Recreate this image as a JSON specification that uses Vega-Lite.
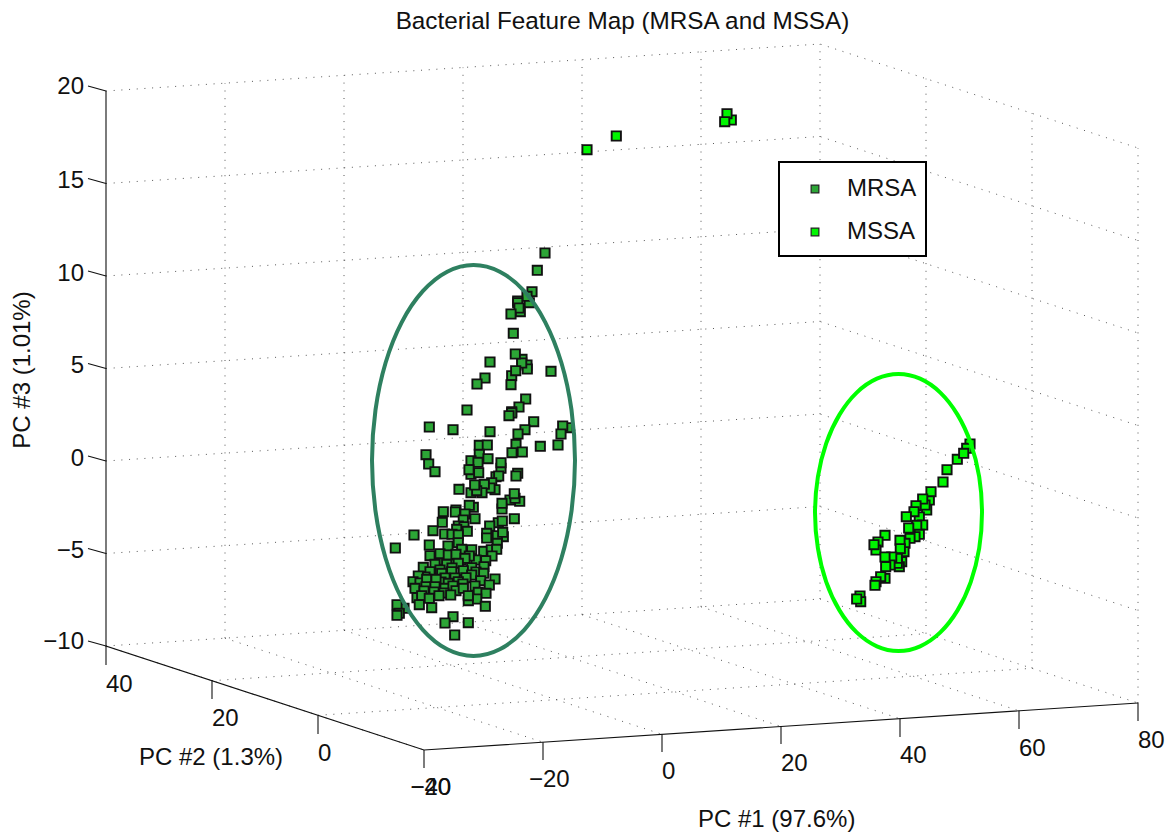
{"$schema":"https://vega.github.io/schema/vega-lite/v6.json","width":1169,"height":834,"padding":0,"autosize":"none","background":"white","view":{"stroke":null},
"title":{"text":"Bacterial Feature Map (MRSA and MSSA)","anchor":"middle","dx":38,"offset":-34,"fontSize":24.3,"font":"Liberation Sans","fontWeight":"normal","color":"#111"},
"config":{"axis":{"domain":false}},
"datasets":{
"grid":[
{"g":"a0","x":424,"y":750},{"g":"a0","x":106,"y":646},{"g":"a1","x":543,"y":742.2},{"g":"a1","x":225,"y":638.2},{"g":"a2","x":662,"y":734.3},{"g":"a2","x":344,"y":630.3},{"g":"a3","x":781,"y":726.5},{"g":"a3","x":463,"y":622.5},{"g":"a4","x":900,"y":718.7},{"g":"a4","x":582,"y":614.7},{"g":"a5","x":1019,"y":710.8},{"g":"a5","x":701,"y":606.8},{"g":"a6","x":1138,"y":703},{"g":"a6","x":820,"y":599},
{"g":"b1","x":318,"y":715.3},{"g":"b1","x":1032,"y":668.3},{"g":"b2","x":212,"y":680.7},{"g":"b2","x":926,"y":633.7},{"g":"b3","x":106,"y":646},{"g":"b3","x":820,"y":599},
{"g":"v1","x":225,"y":638.2},{"g":"v1","x":225,"y":83.2},{"g":"v2","x":344,"y":630.3},{"g":"v2","x":344,"y":75.3},{"g":"v3","x":463,"y":622.5},{"g":"v3","x":463,"y":67.5},{"g":"v4","x":582,"y":614.7},{"g":"v4","x":582,"y":59.7},{"g":"v5","x":701,"y":606.8},{"g":"v5","x":701,"y":51.8},{"g":"v6","x":820,"y":599},{"g":"v6","x":820,"y":44},{"g":"v7","x":926,"y":633.7},{"g":"v7","x":926,"y":78.7},{"g":"v8","x":1032,"y":668.3},{"g":"v8","x":1032,"y":113.3},{"g":"v9","x":1138,"y":703},{"g":"v9","x":1138,"y":148},
{"g":"h1","x":106,"y":553.5},{"g":"h1","x":820,"y":506.5},{"g":"h1","x":1138,"y":610.5},
{"g":"h2","x":106,"y":461},{"g":"h2","x":820,"y":414},{"g":"h2","x":1138,"y":518},
{"g":"h3","x":106,"y":368.5},{"g":"h3","x":820,"y":321.5},{"g":"h3","x":1138,"y":425.5},
{"g":"h4","x":106,"y":276},{"g":"h4","x":820,"y":229},{"g":"h4","x":1138,"y":333},
{"g":"h5","x":106,"y":183.5},{"g":"h5","x":820,"y":136.5},{"g":"h5","x":1138,"y":240.5},
{"g":"h6","x":106,"y":91},{"g":"h6","x":820,"y":44},{"g":"h6","x":1138,"y":148}
],
"axes":[
{"g":"z","x":106,"y":91},{"g":"z","x":106,"y":646},{"g":"z","x":424,"y":750},{"g":"z","x":1138,"y":703},
{"g":"t1","x":88,"y":86},{"g":"t1","x":106,"y":91},{"g":"t2","x":88,"y":178.5},{"g":"t2","x":106,"y":183.5},{"g":"t3","x":88,"y":271},{"g":"t3","x":106,"y":276},{"g":"t4","x":88,"y":363.5},{"g":"t4","x":106,"y":368.5},{"g":"t5","x":88,"y":456},{"g":"t5","x":106,"y":461},{"g":"t6","x":88,"y":548.5},{"g":"t6","x":106,"y":553.5},{"g":"t7","x":88,"y":641},{"g":"t7","x":106,"y":646},
{"g":"p1","x":106,"y":646},{"g":"p1","x":106,"y":665},{"g":"p2","x":212,"y":680.7},{"g":"p2","x":212,"y":699},{"g":"p3","x":318,"y":715.3},{"g":"p3","x":318,"y":734},{"g":"p4","x":424,"y":750},{"g":"p4","x":424,"y":768},
{"g":"q1","x":543,"y":742.2},{"g":"q1","x":543,"y":760},{"g":"q2","x":662,"y":734.3},{"g":"q2","x":662,"y":752},{"g":"q3","x":781,"y":726.5},{"g":"q3","x":781,"y":744},{"g":"q4","x":900,"y":718.7},{"g":"q4","x":900,"y":737},{"g":"q5","x":1019,"y":710.8},{"g":"q5","x":1019,"y":729},{"g":"q6","x":1138,"y":703},{"g":"q6","x":1138,"y":721}
],
"box":[{"x":779,"x2":926,"y":162,"y2":256}],
"ellipses":[
{"s":"MRSA","o":0,"x":575,"y":460.5},{"s":"MRSA","o":1,"x":571.5,"y":409.9},{"s":"MRSA","o":2,"x":561.4,"y":362.75},{"s":"MRSA","o":3,"x":545.3,"y":322.3},{"s":"MRSA","o":4,"x":524.3,"y":291.2},{"s":"MRSA","o":5,"x":499.8,"y":271.7},{"s":"MRSA","o":6,"x":473.5,"y":265},{"s":"MRSA","o":7,"x":447.2,"y":271.7},{"s":"MRSA","o":8,"x":422.8,"y":291.2},{"s":"MRSA","o":9,"x":401.7,"y":322.3},{"s":"MRSA","o":10,"x":385.6,"y":362.75},{"s":"MRSA","o":11,"x":375.5,"y":409.9},{"s":"MRSA","o":12,"x":372,"y":460.5},{"s":"MRSA","o":13,"x":375.5,"y":511.1},{"s":"MRSA","o":14,"x":385.6,"y":558.25},{"s":"MRSA","o":15,"x":401.7,"y":598.7},{"s":"MRSA","o":16,"x":422.8,"y":629.8},{"s":"MRSA","o":17,"x":447.2,"y":649.3},{"s":"MRSA","o":18,"x":473.5,"y":656},{"s":"MRSA","o":19,"x":499.8,"y":649.3},{"s":"MRSA","o":20,"x":524.3,"y":629.8},{"s":"MRSA","o":21,"x":545.3,"y":598.7},{"s":"MRSA","o":22,"x":561.4,"y":558.25},{"s":"MRSA","o":23,"x":571.5,"y":511.1},
{"s":"MSSA","o":0,"x":982,"y":512.5},{"s":"MSSA","o":1,"x":979.2,"y":476.7},{"s":"MSSA","o":2,"x":970.8,"y":443.3},{"s":"MSSA","o":3,"x":957.5,"y":414.6},{"s":"MSSA","o":4,"x":940.3,"y":392.6},{"s":"MSSA","o":5,"x":920.1,"y":378.7},{"s":"MSSA","o":6,"x":898.5,"y":374},{"s":"MSSA","o":7,"x":876.9,"y":378.7},{"s":"MSSA","o":8,"x":856.7,"y":392.6},{"s":"MSSA","o":9,"x":839.5,"y":414.6},{"s":"MSSA","o":10,"x":826.2,"y":443.3},{"s":"MSSA","o":11,"x":817.9,"y":476.7},{"s":"MSSA","o":12,"x":815,"y":512.5},{"s":"MSSA","o":13,"x":817.9,"y":548.3},{"s":"MSSA","o":14,"x":826.2,"y":581.8},{"s":"MSSA","o":15,"x":839.5,"y":610.4},{"s":"MSSA","o":16,"x":856.7,"y":632.4},{"s":"MSSA","o":17,"x":876.9,"y":646.3},{"s":"MSSA","o":18,"x":898.5,"y":651},{"s":"MSSA","o":19,"x":920.1,"y":646.3},{"s":"MSSA","o":20,"x":940.3,"y":632.4},{"s":"MSSA","o":21,"x":957.5,"y":610.4},{"s":"MSSA","o":22,"x":970.8,"y":581.8},{"s":"MSSA","o":23,"x":979.2,"y":548.3}
],
"labelsRight":[
{"t":"20","x":84,"y":87},{"t":"15","x":84,"y":181},{"t":"10","x":84,"y":274},{"t":"5","x":84,"y":366},{"t":"0","x":84,"y":459},{"t":"−5","x":84,"y":551},{"t":"−10","x":84,"y":642}],
"labelsLeft":[
{"t":"40","x":106,"y":685},{"t":"20","x":212,"y":719},{"t":"0","x":318,"y":754},{"t":"−20","x":410.5,"y":788},
{"t":"−40","x":410.5,"y":788},{"t":"−20","x":529,"y":780},{"t":"0","x":662,"y":772},{"t":"20","x":781,"y":764},{"t":"40","x":900,"y":756},{"t":"60","x":1019,"y":749},{"t":"80","x":1138,"y":741},
{"t":"PC #2 (1.3%)","x":139,"y":758},{"t":"PC #1 (97.6%)","x":698,"y":820}
],
"ylabel":[{"t":"PC #3 (1.01%)","x":23,"y":370}],
"points":[
{"s":"MRSA","x":545,"y":253},{"s":"MRSA","x":537.3,"y":270.3},{"s":"MRSA","x":532,"y":291.7},{"s":"MRSA","x":529.3,"y":302.7},{"s":"MRSA","x":527,"y":296.3},{"s":"MRSA","x":517.7,"y":301},{"s":"MRSA","x":517.7,"y":302.7},{"s":"MRSA","x":520.3,"y":311.7},{"s":"MRSA","x":519,"y":308},{"s":"MRSA","x":511,"y":314},{"s":"MRSA","x":513.3,"y":333.3},{"s":"MRSA","x":522,"y":359.3},{"s":"MRSA","x":527,"y":365},{"s":"MRSA","x":527.3,"y":369},{"s":"MRSA","x":521.7,"y":363},{"s":"MRSA","x":515.3,"y":354},{"s":"MRSA","x":511.7,"y":375.7},{"s":"MRSA","x":515.7,"y":370.7},{"s":"MRSA","x":511,"y":384.7},{"s":"MRSA","x":490,"y":362},{"s":"MRSA","x":485,"y":378},{"s":"MRSA","x":477,"y":384},{"s":"MRSA","x":551,"y":371.3},{"s":"MRSA","x":525.7,"y":399},{"s":"MRSA","x":519,"y":407},{"s":"MRSA","x":511.7,"y":411.7},{"s":"MRSA","x":511.7,"y":413},{"s":"MRSA","x":509,"y":415.7},{"s":"MRSA","x":467,"y":410},{"s":"MRSA","x":533.7,"y":421.7},{"s":"MRSA","x":568,"y":427.7},{"s":"MRSA","x":562.7,"y":426},{"s":"MRSA","x":561,"y":434},{"s":"MRSA","x":429.3,"y":427},{"s":"MRSA","x":453,"y":429.7},{"s":"MRSA","x":490,"y":431.7},{"s":"MRSA","x":525,"y":429.7},{"s":"MRSA","x":518,"y":434},
{"s":"MRSA","x":516,"y":444.3},{"s":"MRSA","x":540.3,"y":446.3},{"s":"MRSA","x":558,"y":445},{"s":"MRSA","x":522.3,"y":452},{"s":"MRSA","x":512,"y":452.7},{"s":"MRSA","x":479.3,"y":445.3},{"s":"MRSA","x":487.3,"y":445},{"s":"MRSA","x":479.3,"y":454.3},{"s":"MRSA","x":488,"y":458.7},{"s":"MRSA","x":471,"y":460.7},{"s":"MRSA","x":478,"y":462.3},{"s":"MRSA","x":501,"y":468.3},{"s":"MRSA","x":501,"y":462.7},{"s":"MRSA","x":471,"y":474.3},{"s":"MRSA","x":478.7,"y":472.7},{"s":"MRSA","x":469,"y":469.7},{"s":"MRSA","x":426,"y":454.7},{"s":"MRSA","x":428.7,"y":464},{"s":"MRSA","x":435,"y":471.7},{"s":"MRSA","x":517.7,"y":473.3},{"s":"MRSA","x":516,"y":476},{"s":"MRSA","x":496,"y":476.7},{"s":"MRSA","x":498.7,"y":476},{"s":"MRSA","x":491.7,"y":482.7},{"s":"MRSA","x":495,"y":489.7},{"s":"MRSA","x":490,"y":488},{"s":"MRSA","x":484.3,"y":484.3},{"s":"MRSA","x":482,"y":492.7},{"s":"MRSA","x":471,"y":492.7},{"s":"MRSA","x":476.7,"y":490.7},{"s":"MRSA","x":474.7,"y":485},{"s":"MRSA","x":459,"y":489.3},{"s":"MRSA","x":519.7,"y":501.3},{"s":"MRSA","x":510,"y":500},{"s":"MRSA","x":515,"y":498.3},{"s":"MRSA","x":514.3,"y":493.7},{"s":"MRSA","x":502,"y":509},{"s":"MRSA","x":502,"y":503.3},{"s":"MRSA","x":473.3,"y":507.3},{"s":"MRSA","x":469.3,"y":505.3},{"s":"MRSA","x":456,"y":510},{"s":"MRSA","x":455.3,"y":512},{"s":"MRSA","x":443.3,"y":511.7},{"s":"MRSA","x":465,"y":514},{"s":"MRSA","x":475,"y":518.7},{"s":"MRSA","x":514.3,"y":518.7},{"s":"MRSA","x":498.3,"y":522.7},{"s":"MRSA","x":502.3,"y":521},{"s":"MRSA","x":463.3,"y":520},{"s":"MRSA","x":442.3,"y":522.3},{"s":"MRSA","x":458.3,"y":526},{"s":"MRSA","x":464,"y":526.7},{"s":"MRSA","x":489.7,"y":526},{"s":"MRSA","x":433,"y":530.7},{"s":"MRSA","x":414,"y":535},{"s":"MRSA","x":456.7,"y":529.3},{"s":"MRSA","x":467.3,"y":531.3},{"s":"MRSA","x":444.7,"y":534},{"s":"MRSA","x":452,"y":534.3},{"s":"MRSA","x":458.3,"y":535},{"s":"MRSA","x":486.7,"y":533.3},{"s":"MRSA","x":486.7,"y":538},{"s":"MRSA","x":503.3,"y":536.7},{"s":"MRSA","x":497.3,"y":535.7},{"s":"MRSA","x":502.7,"y":532.3},
{"s":"MRSA","x":395.3,"y":548},{"s":"MRSA","x":429.3,"y":545},{"s":"MRSA","x":448,"y":546},{"s":"MRSA","x":458.3,"y":542.7},{"s":"MRSA","x":461.7,"y":549.3},{"s":"MRSA","x":471.7,"y":549.7},{"s":"MRSA","x":483.7,"y":551.3},{"s":"MRSA","x":491.3,"y":549.7},{"s":"MRSA","x":497.3,"y":543.3},{"s":"MRSA","x":496.7,"y":549.3},{"s":"MRSA","x":440,"y":560},{"s":"MRSA","x":452,"y":559},{"s":"MRSA","x":461,"y":560},{"s":"MRSA","x":476,"y":560},{"s":"MRSA","x":492,"y":556},{"s":"MRSA","x":430,"y":555.7},{"s":"MRSA","x":440,"y":553.7},{"s":"MRSA","x":448.3,"y":555},{"s":"MRSA","x":456,"y":554.3},{"s":"MRSA","x":469.3,"y":556},{"s":"MRSA","x":465,"y":558.3},{"s":"MRSA","x":485.7,"y":560.7},{"s":"MRSA","x":423.3,"y":567.3},{"s":"MRSA","x":435,"y":564.3},{"s":"MRSA","x":446.7,"y":564.3},{"s":"MRSA","x":458.3,"y":563.3},{"s":"MRSA","x":452,"y":568},{"s":"MRSA","x":440,"y":570},{"s":"MRSA","x":471.7,"y":567.7},{"s":"MRSA","x":484,"y":566.7},{"s":"MRSA","x":430,"y":571.7},{"s":"MRSA","x":441.7,"y":573.3},{"s":"MRSA","x":451.7,"y":571.7},{"s":"MRSA","x":463.3,"y":570.7},{"s":"MRSA","x":476,"y":572},{"s":"MRSA","x":425,"y":577},{"s":"MRSA","x":418.3,"y":576},{"s":"MRSA","x":483.7,"y":573.3},{"s":"MRSA","x":471.7,"y":575},{"s":"MRSA","x":466,"y":577.7},{"s":"MRSA","x":455,"y":578},{"s":"MRSA","x":445,"y":578},{"s":"MRSA","x":495,"y":579},{"s":"MRSA","x":480.7,"y":580.7},{"s":"MRSA","x":413,"y":581.7},{"s":"MRSA","x":420,"y":583},{"s":"MRSA","x":431,"y":582},{"s":"MRSA","x":441,"y":582},{"s":"MRSA","x":426.7,"y":579.3},{"s":"MRSA","x":436,"y":579.3},{"s":"MRSA","x":448.3,"y":583.3},{"s":"MRSA","x":458.3,"y":581.7},{"s":"MRSA","x":463,"y":584},{"s":"MRSA","x":475,"y":586},{"s":"MRSA","x":415,"y":588.3},{"s":"MRSA","x":426,"y":586.7},{"s":"MRSA","x":435,"y":586.7},{"s":"MRSA","x":445,"y":588.3},{"s":"MRSA","x":453,"y":586},{"s":"MRSA","x":456,"y":590.7},{"s":"MRSA","x":463.3,"y":588.3},{"s":"MRSA","x":489.3,"y":585},{"s":"MRSA","x":424,"y":591},{"s":"MRSA","x":434,"y":592},{"s":"MRSA","x":444,"y":593},{"s":"MRSA","x":417,"y":597.7},{"s":"MRSA","x":421.7,"y":595.7},{"s":"MRSA","x":429.3,"y":598.3},{"s":"MRSA","x":439,"y":595.7},{"s":"MRSA","x":450.7,"y":595},{"s":"MRSA","x":478.3,"y":592.3},{"s":"MRSA","x":486,"y":593.3},{"s":"MRSA","x":476.7,"y":599},{"s":"MRSA","x":468.3,"y":600.7},{"s":"MRSA","x":468.3,"y":595.7},{"s":"MRSA","x":419.3,"y":604.7},{"s":"MRSA","x":431.7,"y":607.7},{"s":"MRSA","x":485.3,"y":606.3},{"s":"MRSA","x":404,"y":608.3},{"s":"MRSA","x":397,"y":604.7},{"s":"MRSA","x":399.3,"y":613.3},{"s":"MRSA","x":397,"y":615.3},{"s":"MRSA","x":453,"y":616.7},{"s":"MRSA","x":445,"y":623},{"s":"MRSA","x":468.3,"y":622.7},{"s":"MRSA","x":454.7,"y":635},
{"s":"MSSA","x":970,"y":444},{"s":"MSSA","x":966.7,"y":448.3},{"s":"MSSA","x":957.3,"y":459.3},{"s":"MSSA","x":963.7,"y":453.3},{"s":"MSSA","x":947,"y":469.7},{"s":"MSSA","x":943,"y":482},{"s":"MSSA","x":929.3,"y":500},{"s":"MSSA","x":931,"y":491.7},{"s":"MSSA","x":926.7,"y":510},{"s":"MSSA","x":925,"y":505},{"s":"MSSA","x":922.7,"y":499},{"s":"MSSA","x":916,"y":505.7},{"s":"MSSA","x":919.3,"y":517},{"s":"MSSA","x":914,"y":511.7},{"s":"MSSA","x":906.3,"y":516.7},{"s":"MSSA","x":922.7,"y":525},{"s":"MSSA","x":916.7,"y":525.3},{"s":"MSSA","x":919.3,"y":534.3},{"s":"MSSA","x":915,"y":536.7},{"s":"MSSA","x":910,"y":538.3},{"s":"MSSA","x":908.7,"y":528},{"s":"MSSA","x":905,"y":543.3},{"s":"MSSA","x":904,"y":551.7},{"s":"MSSA","x":900,"y":540.3},{"s":"MSSA","x":900.3,"y":548.7},{"s":"MSSA","x":885,"y":535.3},{"s":"MSSA","x":878,"y":542},{"s":"MSSA","x":876,"y":550},{"s":"MSSA","x":874,"y":544.7},{"s":"MSSA","x":901.7,"y":561.7},{"s":"MSSA","x":899.3,"y":566.7},{"s":"MSSA","x":897.3,"y":563.3},{"s":"MSSA","x":897.3,"y":558.3},{"s":"MSSA","x":891.7,"y":557},{"s":"MSSA","x":890,"y":565},{"s":"MSSA","x":885,"y":557},{"s":"MSSA","x":885.7,"y":566.7},{"s":"MSSA","x":885,"y":578.3},{"s":"MSSA","x":880.7,"y":576.7},{"s":"MSSA","x":876,"y":581.7},{"s":"MSSA","x":875,"y":585.3},{"s":"MSSA","x":860,"y":596},{"s":"MSSA","x":860.7,"y":601.7},{"s":"MSSA","x":856.7,"y":599},{"s":"MSSA","x":587,"y":149.7},{"s":"MSSA","x":616.3,"y":136},{"s":"MSSA","x":731.3,"y":120},{"s":"MSSA","x":727,"y":113.7},{"s":"MSSA","x":724.7,"y":121.7}
]},
"encoding":{"x":{"field":"x","type":"quantitative","scale":{"domain":[0,1169],"nice":false,"zero":false},"axis":null},"y":{"field":"y","type":"quantitative","scale":{"domain":[834,0],"nice":false,"zero":false},"axis":null}},
"layer":[
{"data":{"name":"grid"},"mark":{"type":"line","stroke":"#444","strokeWidth":0.9,"strokeDash":[1,6.7]},"encoding":{"detail":{"field":"g"}}},
{"data":{"name":"axes"},"mark":{"type":"line","stroke":"#111","strokeWidth":1.1},"encoding":{"detail":{"field":"g"}}},
{"data":{"name":"points"},"mark":{"type":"point","shape":"square","filled":true,"size":85,"stroke":"#111","strokeWidth":1.9,"opacity":1},"encoding":{"color":{"field":"s","type":"nominal","scale":{"domain":["MRSA","MSSA"],"range":["#2ca636","#00f500"]},"legend":{"title":null,"orient":"none","legendX":779,"legendY":163,"padding":14,"symbolType":"square","symbolSize":60,"symbolStrokeColor":"#222","symbolStrokeWidth":1.2,"symbolOffset":10,"labelOffset":20,"labelFont":"Liberation Sans","labelFontSize":24,"labelColor":"#111","rowPadding":19}}}},
{"data":{"name":"ellipses"},"mark":{"type":"line","interpolate":"cardinal-closed","strokeWidth":4},"encoding":{"stroke":{"field":"s","type":"nominal","scale":{"domain":["MRSA","MSSA"],"range":["#2e8060","#00ff00"]},"legend":null},"order":{"field":"o","type":"quantitative"}}},
{"data":{"name":"box"},"mark":{"type":"rect","fill":"white","stroke":"black","strokeWidth":2},"encoding":{"x2":{"field":"x2"},"y2":{"field":"y2"}}},
{"data":{"name":"labelsRight"},"mark":{"type":"text","font":"Liberation Sans","fontSize":24,"color":"#111","baseline":"middle","align":"right"},"encoding":{"text":{"field":"t"}}},
{"data":{"name":"labelsLeft"},"mark":{"type":"text","font":"Liberation Sans","fontSize":24,"color":"#111","baseline":"middle","align":"left"},"encoding":{"text":{"field":"t"}}},
{"data":{"name":"ylabel"},"mark":{"type":"text","font":"Liberation Sans","fontSize":24,"color":"#111","angle":270,"align":"center","baseline":"middle"},"encoding":{"text":{"field":"t"}}}
],
"resolve":{"scale":{"color":"independent","stroke":"independent"}}}
